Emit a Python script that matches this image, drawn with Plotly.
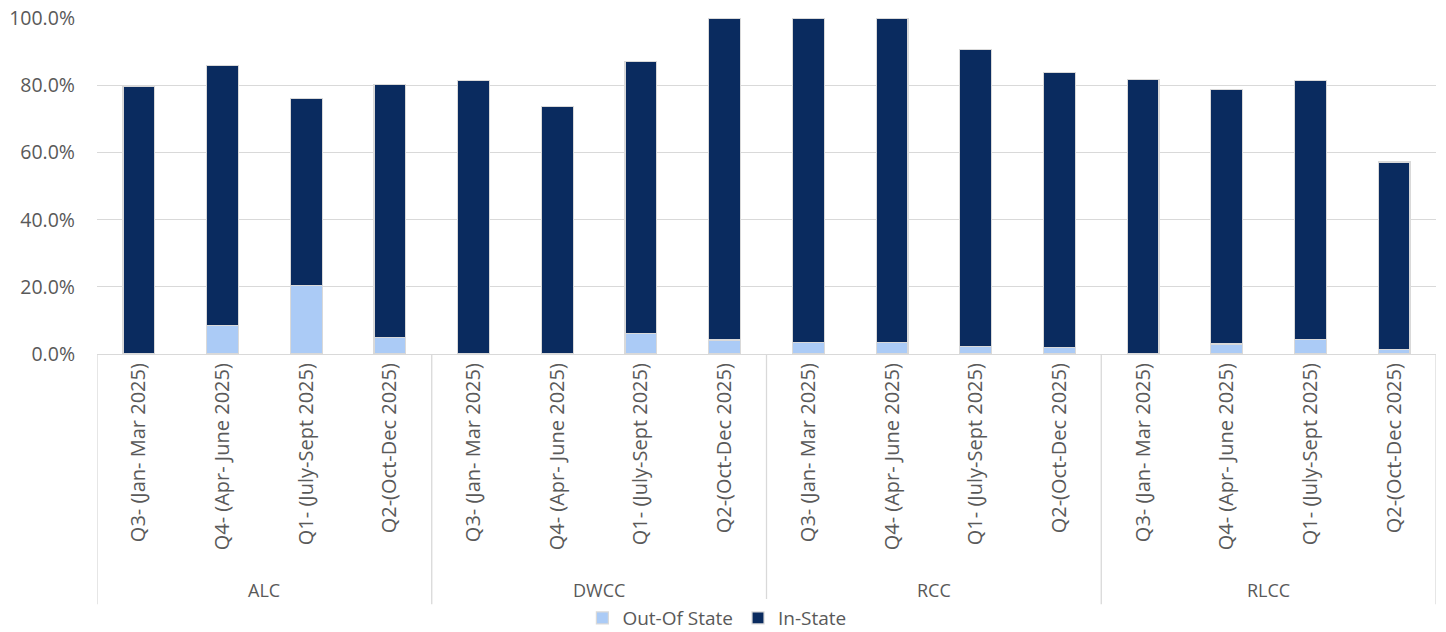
import plotly.graph_objects as go

groups = ["ALC", "DWCC", "RCC", "RLCC"]
quarters = ["Q3- (Jan- Mar 2025)", "Q4- (Apr- June 2025)", "Q1- (July-Sept 2025)", "Q2-(Oct-Dec 2025)"]
out_of_state = [0.000, 0.085, 0.204, 0.048,
                0.000, 0.000, 0.061, 0.042,
                0.034, 0.034, 0.023, 0.019,
                0.000, 0.030, 0.043, 0.014]
in_state = [0.797, 0.774, 0.557, 0.755,
            0.815, 0.738, 0.811, 0.958,
            0.966, 0.966, 0.884, 0.819,
            0.817, 0.757, 0.772, 0.558]

n_q = len(quarters)
labels = [q for g in groups for q in quarters]
xpos = list(range(len(labels)))

LIGHT = "#abcbf6"
NAVY = "#0a2b5f"
EDGE = "#d9d9d9"
TXT = "#595959"
FONT = "Open Sans"

fig = go.Figure()
fig.add_trace(go.Bar(x=xpos, y=out_of_state, name="Out-Of State", marker=dict(color=LIGHT, line=dict(color=EDGE, width=1.2)), width=0.38))
fig.add_trace(go.Bar(x=xpos, y=in_state, name="In-State", marker=dict(color=NAVY, line=dict(color=EDGE, width=1.2)), width=0.38))

# group separators and labels
for gi, g in enumerate(groups):
    left = gi * n_q - 0.5
    fig.add_shape(type="line", xref="x", yref="paper", x0=left, x1=left, y0=0, y1=-0.745,
                  line=dict(color=EDGE, width=1.3))
    fig.add_annotation(x=gi * n_q + (n_q - 1) / 2, xref="x", y=-0.703, yref="paper",
                       text=g, showarrow=False, font=dict(family=FONT, size=18, color=TXT),
                       yanchor="middle")
right = len(labels) - 0.5
fig.add_shape(type="line", xref="x", yref="paper", x0=right, x1=right, y0=0, y1=-0.745,
              line=dict(color=EDGE, width=1.3))

fig.update_layout(
    barmode="stack",
    width=1446, height=632,
    margin=dict(l=97, r=10, t=18, b=278, autoexpand=False),
    plot_bgcolor="white", paper_bgcolor="white",
    showlegend=True,
    legend=dict(orientation="h", x=0.3625, xanchor="left", y=-0.786, yanchor="middle",
                font=dict(family=FONT, size=19, color=TXT), traceorder="normal",
                itemwidth=30),
    xaxis=dict(tickmode="array", tickvals=xpos, ticktext=labels, tickangle=-90,
               range=[-0.5, len(labels) - 0.5], showgrid=False, zeroline=False,
               showline=True, linecolor=EDGE, linewidth=1.3, ticks="", automargin=False,
               tickfont=dict(family=FONT, size=20, color=TXT)),
    yaxis=dict(range=[0, 1.001], tickvals=[0, 0.2, 0.4, 0.6, 0.8, 1.0], tickformat=".1%",
               showgrid=True, gridcolor=EDGE, gridwidth=1.3, zeroline=False, showline=False,
               ticks="", ticklen=0, automargin=False, ticklabelstandoff=21,
               ticklabeloverflow="allow",
               tickfont=dict(family=FONT, size=19.5, color=TXT)),
    bargap=0.62,
)

fig.write_html("out.html", config={"displayModeBar": False},
               post_script="document.body.style.margin='0';")
